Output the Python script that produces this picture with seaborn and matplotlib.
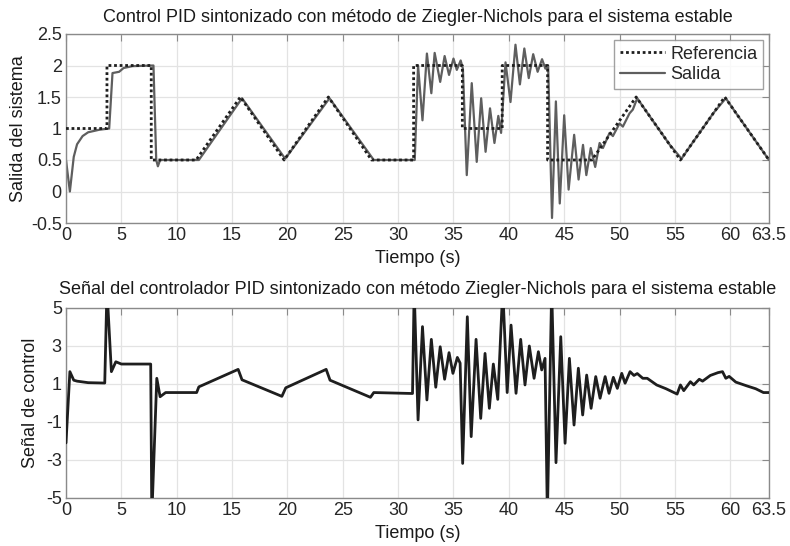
import matplotlib
matplotlib.use("Agg")
import matplotlib.pyplot as plt
import seaborn as sns
import pandas as pd

# ---------------- data ----------------
ref_t = [0, 3.7, 3.7, 7.7, 7.7, 11.75, 15.75, 19.7, 23.7, 27.6, 31.4, 31.4, 35.8, 35.8,
         39.4, 39.4, 43.5, 43.5, 47.5, 51.5, 55.5, 59.5, 63.5]
ref_y = [1, 1, 2, 2, 0.5, 0.5, 1.5, 0.5, 1.5, 0.5, 0.5, 2, 2, 1,
         1, 2, 2, 0.5, 0.5, 1.5, 0.5, 1.5, 0.5]

out_t = [0, 0.35, 0.7, 1.0, 1.5, 2.0, 3.0, 3.9, 4.2, 4.8, 5.2, 6.0, 7.9, 8.15, 8.3, 8.5,
         12.0, 15.9, 19.8, 23.8, 27.8, 31.5, 31.8, 32.2, 32.6, 33.0, 33.3, 33.8, 34.2,
         34.6, 35.0, 35.3, 35.65, 35.85, 36.2, 36.65, 37.1, 37.5, 37.9, 38.3, 38.7,
         39.05, 39.3, 39.7, 40.15, 40.6, 41.0, 41.4, 41.8, 42.2, 42.6, 43.0, 43.3,
         43.55, 43.9, 44.25, 44.6, 45.0, 45.4, 45.9, 46.3, 46.7, 47.0, 47.4, 47.8,
         48.2, 48.5, 49.1, 49.4, 50.0, 50.3, 50.9, 51.2, 51.6, 52.5, 53.5, 54.5,
         55.6, 56.5, 57.5, 58.5, 59.6, 60.5, 61.5, 62.5, 63.5]
out_y = [0.5, 0.0, 0.55, 0.75, 0.88, 0.94, 0.98, 1.0, 1.88, 1.9, 1.96, 1.99, 2.0, 0.5, 0.4, 0.5,
         0.5, 1.48, 0.52, 1.48, 0.5, 0.5, 2.0, 1.13, 2.19, 1.56, 2.2, 1.74, 2.15,
         1.85, 2.11, 1.93, 2.08, 1.95, 0.26, 1.72, 0.47, 1.48, 0.63, 1.32, 0.77,
         1.2, 0.93, 2.05, 1.42, 2.33, 1.7, 2.27, 1.8, 2.18, 1.9, 2.1, 1.95,
         2.0, -0.42, 1.43, -0.19, 1.21, 0.03, 0.9, 0.19, 0.74, 0.26, 0.69, 0.39,
         0.77, 0.69, 0.93, 0.88, 1.08, 1.03, 1.24, 1.3, 1.48, 1.25, 1.0, 0.75,
         0.52, 0.75, 1.0, 1.25, 1.48, 1.25, 1.0, 0.75, 0.5]

ctrl_t = [0, 0.35, 0.7, 1.0, 2.0, 3.5, 3.7, 4.1, 4.5, 5.0, 7.65, 7.75, 8.2, 8.5, 9.0,
          11.8, 12.0, 15.55, 15.9, 19.5, 19.85, 23.5, 23.85, 27.5, 27.8, 31.3, 31.45,
          31.8, 32.2, 32.6, 33.0, 33.4, 33.8, 34.2, 34.6, 34.95, 35.35, 35.6, 35.83,
          36.25, 36.6, 37.04, 37.46, 37.85, 38.24, 38.6, 39.0, 39.45, 39.85, 40.2,
          40.65, 41.07, 41.46, 41.85, 42.28, 42.67, 42.97, 43.27, 43.48, 43.87, 44.26,
          44.69, 45.08, 45.47, 45.89, 46.28, 46.67, 47.03, 47.43, 47.85, 48.24, 48.7,
          49.05, 49.44, 49.8, 50.2, 50.5, 50.95, 51.3, 51.6, 52.1, 52.5, 53.35, 54.2,
          55.2, 55.5, 55.8, 56.4, 56.7, 57.2, 57.5, 58.2, 58.9, 59.3, 59.6, 59.9,
          60.5, 61.5, 62.3, 63.0, 63.5]
ctrl_y = [-2.1, 1.65, 1.2, 1.15, 1.07, 1.05, 6.0, 1.65, 2.17, 2.05, 2.05, -6.0, 1.3, 0.33, 0.55,
          0.55, 0.85, 1.77, 1.22, 0.35, 0.8, 1.77, 1.2, 0.3, 0.55, 0.5, 6.0,
          -0.89, 4.02, 0.16, 3.35, 0.83, 2.96, 1.25, 2.65, 1.56, 2.4, 2.1, -3.18,
          4.54, -1.77, 3.35, -0.81, 2.61, -0.28, 2.05, 0.19, 6.0, 0.55, 4.1,
          0.51, 3.35, 0.95, 3.0, 1.3, 2.7, 1.74, 2.35, -6.0, 6.0, -3.14,
          3.49, -2.12, 2.35, -1.16, 1.83, -0.63, 1.47, -0.28, 1.39, 0.25, 1.39,
          0.51, 1.35, 0.77, 1.56, 1.04, 1.65, 1.45, 1.55, 1.3, 1.3, 0.95, 0.75,
          0.47, 0.95, 0.65, 1.12, 0.95, 1.25, 1.15, 1.45, 1.6, 1.65, 1.3, 1.4,
          1.1, 0.9, 0.75, 0.55, 0.55]

xticks = [0, 5, 10, 15, 20, 25, 30, 35, 40, 45, 50, 55, 60, 63.5]
xtick_labels = ['0', '5', '10', '15', '20', '25', '30', '35', '40', '45', '50', '55', '60', '63.5']
yticks_top = [-0.5, 0, 0.5, 1, 1.5, 2, 2.5]
ytick_labels_top = ['-0.5', '0', '0.5', '1', '1.5', '2', '2.5']
yticks_bot = [-5, -3, -1, 1, 3, 5]
ytick_labels_bot = ['-5', '-3', '-1', '1', '3', '5']

title_top = "Control PID sintonizado con método de Ziegler-Nichols para el sistema estable"
title_bot = "Señal del controlador PID sintonizado con método Ziegler-Nichols para el sistema estable"

# ---------------- style ----------------
sns.set_style("white")
plt.rcParams['font.family'] = ['Liberation Sans', 'DejaVu Sans']

FS = 13
fig = plt.figure(figsize=(7.9, 5.46), dpi=100)
L, W = 66 / 790, 703 / 790
ax1 = fig.add_axes([L, 1 - 223 / 546, W, 189 / 546])
ax2 = fig.add_axes([L, 1 - 498 / 546, W, 190 / 546])

df_ref = pd.DataFrame({'t': ref_t, 'y': ref_y})
df_out = pd.DataFrame({'t': out_t, 'y': out_y})
df_ctrl = pd.DataFrame({'t': ctrl_t, 'y': ctrl_y})

sns.lineplot(data=df_out, x='t', y='y', ax=ax1, sort=False, estimator=None,
             color='#5e5e5e', lw=1.6, zorder=2, label='Salida')
sns.lineplot(data=df_ref, x='t', y='y', ax=ax1, sort=False, estimator=None,
             color='#1e1e1e', lw=2.0, linestyle=(0, (1, 1)), zorder=3, label='Referencia')
sns.lineplot(data=df_ctrl, x='t', y='y', ax=ax2, sort=False, estimator=None,
             color='#1e1e1e', lw=2.0, zorder=3, legend=False)

for ax, yt, ytl, ylim in [(ax1, yticks_top, ytick_labels_top, (-0.5, 2.5)),
                          (ax2, yticks_bot, ytick_labels_bot, (-5, 5))]:
    ax.set_xlim(0, 63.5)
    ax.set_ylim(*ylim)
    ax.set_xticks(xticks)
    ax.set_xticklabels(xtick_labels)
    ax.set_yticks(yt)
    ax.set_yticklabels(ytl)
    ax.grid(True, color='#e3e3e3', lw=0.9)
    ax.set_axisbelow(True)
    ax.tick_params(direction='in', length=5, width=0.8, color='#8a8a8a',
                   top=True, right=True, labelsize=FS, labelcolor='#262626', pad=3)
    for s in ax.spines.values():
        s.set_color('#8a8a8a')
        s.set_linewidth(1.0)
    ax.set_xlabel('Tiempo (s)', fontsize=FS, color='#1a1a1a', labelpad=4)

ax1.set_ylabel('Salida del sistema', fontsize=FS, color='#1a1a1a')
ax2.set_ylabel('Señal de control', fontsize=FS, color='#1a1a1a')
ax1.yaxis.set_label_coords(-0.056, 0.5)
ax2.yaxis.set_label_coords(-0.038, 0.5)
ax1.set_title(title_top, fontsize=FS, color='#1a1a1a', pad=9)
ax2.set_title(title_bot, fontsize=FS, color='#1a1a1a', pad=10)

h, l = ax1.get_legend_handles_labels()
order = [l.index('Referencia'), l.index('Salida')]
leg = ax1.legend([h[i] for i in order], [l[i] for i in order], loc='upper right',
                 fontsize=FS, frameon=True, fancybox=False, borderaxespad=0.35,
                 handlelength=2.5, handletextpad=0.3, borderpad=0.3, labelspacing=0.2)
leg.get_frame().set_edgecolor('#8a8a8a')
leg.get_frame().set_linewidth(1.0)

fig.savefig('out.png', dpi=100)
